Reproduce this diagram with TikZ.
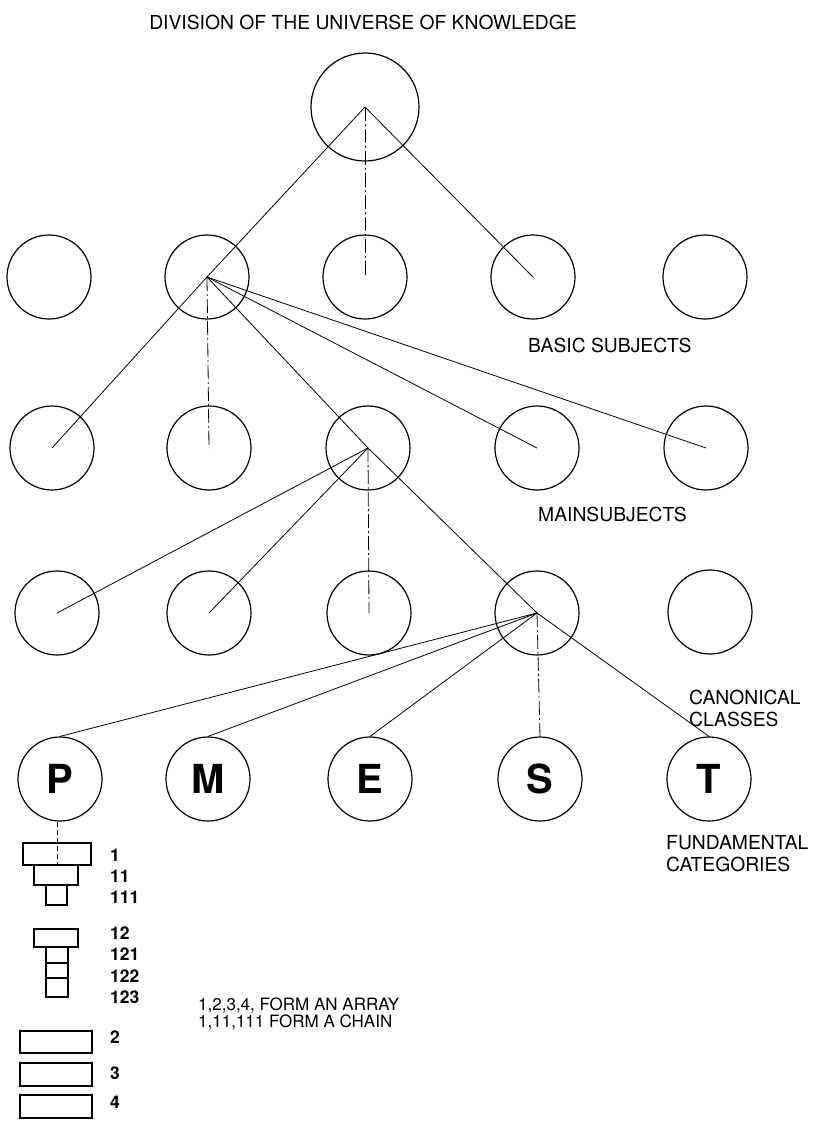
\documentclass[tikz,border=0pt]{standalone}
\usepackage{fontspec}
\setmainfont{TeX Gyre Heros}
\begin{document}
\begin{tikzpicture}[x=1pt,y=-1pt,
  circ/.style={circle,draw,line width=1.2pt,minimum size=84pt,inner sep=0pt},
  bigcirc/.style={circ,minimum size=108pt},
  link/.style={line width=0.8pt},
  vlink/.style={line width=0.8pt,dash pattern=on 14pt off 3pt on 2pt off 3pt},
  plink/.style={line width=0.9pt,dash pattern=on 5pt off 3pt},
  lbl/.style={font=\fontsize{19.3}{22}\selectfont,anchor=west,align=left,inner sep=0pt},
  note/.style={font=\fontsize{17}{17.5}\selectfont,anchor=west,align=left,inner sep=0pt},
  num/.style={font=\bfseries\fontsize{17.5}{17.5}\selectfont,anchor=west,inner sep=0pt},
  cat/.style={circ,font=\bfseries\fontsize{40}{40}\selectfont},
  box/.style={draw,line width=1.1pt,inner sep=0pt}
]
\useasboundingbox (0,0) rectangle (815,1122);

% title
\node[font=\fontsize{19.3}{22}\selectfont] (title) at (363,22) {DIVISION OF THE UNIVERSE OF KNOWLEDGE};

% universe
\node[bigcirc] (u) at (365,107) {};

% basic subjects
\node[circ] (a1) at (49,277) {};
\node[circ] (a2) at (207,277) {};
\node[circ] (a3) at (365,277) {};
\node[circ] (a4) at (533,277) {};
\node[circ] (a5) at (705,277) {};

% main subjects
\node[circ] (b1) at (52,448) {};
\node[circ] (b2) at (209,448) {};
\node[circ] (b3) at (368,448) {};
\node[circ] (b4) at (537,448) {};
\node[circ] (b5) at (706,448) {};

% canonical classes
\node[circ] (c1) at (57,613) {};
\node[circ] (c2) at (209,613) {};
\node[circ] (c3) at (369,613) {};
\node[circ] (c4) at (537,613) {};
\node[circ] (c5) at (710,612) {};

% fundamental categories
\node[cat] (P) at (60,779) {P};
\node[cat] (M) at (208,779) {M};
\node[cat] (E) at (370,779) {E};
\node[cat] (S) at (540,779) {S};
\node[cat] (T) at (709,779) {T};

% connectors
\draw[link] (u.center) -- (a2.center);
\draw[vlink] (u.center) -- (a3.center);
\draw[link] (u.center) -- (a4.center);

\draw[link] (a2.center) -- (b1.center);
\draw[vlink] (a2.center) -- (b2.center);
\draw[link] (a2.center) -- (b3.center);
\draw[link] (a2.center) -- (b4.center);
\draw[link] (a2.center) -- (b5.center);

\draw[link] (b3.center) -- (c1.center);
\draw[link] (b3.center) -- (c2.center);
\draw[vlink] (b3.center) -- (c3.center);
\draw[link] (b3.center) -- (c4.center);

\draw[link] (c4.center) -- (P.north);
\draw[link] (c4.center) -- (M.north);
\draw[link] (c4.center) -- (E.north);
\draw[vlink] (c4.center) -- (S.north);
\draw[link] (c4.center) -- (T.north);

% labels
\node[lbl] (lbasic) at (528,345) {BASIC SUBJECTS};
\node[lbl] (lmain) at (538,514) {MAINSUBJECTS};
\node[lbl] (lcanon) at (689,708) {CANONICAL\\CLASSES};
\node[lbl] (lfund) at (666,854) {FUNDAMENTAL\\CATEGORIES};

% boxes (array and chain)
\node[box,minimum width=68pt,minimum height=22pt] (k1) at (57,854) {};
\node[box,minimum width=44pt,minimum height=20pt] (k11) at (56,875) {};
\node[box,minimum width=21pt,minimum height=20pt] (k111) at (56.5,895) {};
\node[box,minimum width=44pt,minimum height=18pt] (k12) at (56,938) {};
\node[box,minimum width=22pt,minimum height=16pt] (k121) at (57,955) {};
\node[box,minimum width=22pt,minimum height=15pt] (k122) at (57,970.5) {};
\node[box,minimum width=22pt,minimum height=19pt] (k123) at (57,987.5) {};
\node[box,minimum width=72pt,minimum height=22pt] (k2) at (56,1042) {};
\node[box,minimum width=72pt,minimum height=23pt] (k3) at (56,1074.5) {};
\node[box,minimum width=72pt,minimum height=23pt] (k4) at (56,1106.5) {};

\coordinate (pfoot) at (k1.north |- P.south);
\draw[plink] (pfoot) -- (k1.south);

% numbers
\node[num] (n1) at (110,855) {1};
\node[num] (n11) at (110,876) {11};
\node[num] (n111) at (110,897) {111};
\node[num] (n12) at (110,933) {12};
\node[num] (n121) at (110,954) {121};
\node[num] (n122) at (110,976) {122};
\node[num] (n123) at (110,997) {123};
\node[num] (n2) at (110,1037) {2};
\node[num] (n3) at (110,1073) {3};
\node[num] (n4) at (110,1102) {4};

% notes
\node[note] (notes) at (198,1014) {1,2,3,4, FORM AN ARRAY\\1,11,111 FORM A CHAIN};
\end{tikzpicture}
\end{document}
